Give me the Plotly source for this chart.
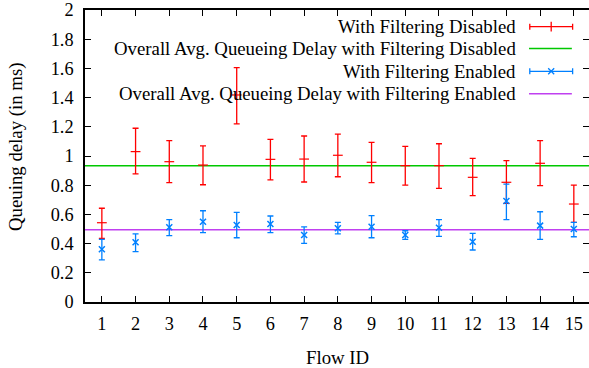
import plotly.graph_objects as go

flow_ids = list(range(1, 16))

disabled_mean = [0.543, 1.03, 0.961, 0.938, 1.418, 0.977, 0.979, 1.005, 0.957, 0.934, 0.934, 0.854, 0.82, 0.95, 0.671]
disabled_high = [0.642, 1.19, 1.105, 1.07, 1.605, 1.114, 1.137, 1.15, 1.094, 1.066, 1.084, 0.984, 0.968, 1.105, 0.801]
disabled_low = [0.436, 0.877, 0.817, 0.803, 1.22, 0.836, 0.822, 0.858, 0.817, 0.801, 0.778, 0.728, 0.676, 0.797, 0.546]

enabled_mean = [0.361, 0.409, 0.512, 0.55, 0.527, 0.534, 0.459, 0.505, 0.516, 0.459, 0.509, 0.413, 0.692, 0.523, 0.5]
enabled_high = [0.429, 0.466, 0.564, 0.625, 0.614, 0.589, 0.514, 0.546, 0.591, 0.488, 0.564, 0.47, 0.808, 0.618, 0.546]
enabled_low = [0.288, 0.345, 0.454, 0.475, 0.44, 0.475, 0.402, 0.466, 0.44, 0.429, 0.45, 0.356, 0.564, 0.429, 0.447]

avg_disabled = 0.934
avg_enabled = 0.495

y_ticks = [0, 0.2, 0.4, 0.6, 0.8, 1, 1.2, 1.4, 1.6, 1.8, 2]
y_ticktext = ["0", "0.2", "0.4", "0.6", "0.8", "1", "1.2", "1.4", "1.6", "1.8", "2"]

legend_labels = [
    "With Filtering Disabled",
    "Overall Avg. Queueing Delay with Filtering Disabled",
    "With Filtering Enabled",
    "Overall Avg. Queueing Delay with Filtering Enabled",
]

RED = "#ff0000"
GREEN = "#00c800"
BLUE = "#0080ff"
PURPLE = "#c040f0"
FONT = "Liberation Serif"
FS = 18.8
TFS = 18.3

x_range = [0.5, 15.45]

fig = go.Figure()

# average lines
fig.add_trace(go.Scatter(x=x_range, y=[avg_disabled, avg_disabled], mode="lines",
                         line=dict(color=GREEN, width=1.5), showlegend=False, hoverinfo="skip"))
fig.add_trace(go.Scatter(x=x_range, y=[avg_enabled, avg_enabled], mode="lines",
                         line=dict(color=PURPLE, width=1.5), showlegend=False, hoverinfo="skip"))

def err(mean, hi, lo):
    return [h - m for h, m in zip(hi, mean)], [m - l for m, l in zip(mean, lo)]

up, dn = err(disabled_mean, disabled_high, disabled_low)
fig.add_trace(go.Scatter(x=flow_ids, y=disabled_mean, mode="markers",
                         marker=dict(symbol="line-ew", size=7, color=RED, line=dict(color=RED, width=1.2)),
                         error_y=dict(type="data", array=up, arrayminus=dn, color=RED, thickness=1.3, width=3),
                         showlegend=False))

up2, dn2 = err(enabled_mean, enabled_high, enabled_low)
fig.add_trace(go.Scatter(x=flow_ids, y=enabled_mean, mode="markers",
                         marker=dict(symbol="x-thin", size=6, color=BLUE, line=dict(color=BLUE, width=1.5)),
                         error_y=dict(type="data", array=up2, arrayminus=dn2, color=BLUE, thickness=1.3, width=3),
                         showlegend=False))

# custom gnuplot-style legend (text right-aligned, sample on the right), on an overlay paper-like axis
leg_rows = [0.943, 0.868, 0.790, 0.713]
sx0, sx1, smid = 0.881, 0.966, 0.925
text_x = 0.859
styles = [("err", RED, "line-ns"), ("line", GREEN, None), ("err", BLUE, "x-thin"), ("line", PURPLE, None)]
for label, yy, (kind, col, sym) in zip(legend_labels, leg_rows, styles):
    fig.add_annotation(x=text_x, y=yy, xref="paper", yref="paper", text=label, showarrow=False,
                       xanchor="right", yanchor="middle", font=dict(family=FONT, size=FS, color="black"))
    if kind == "line":
        fig.add_trace(go.Scatter(x=[sx0, sx1], y=[yy, yy], xaxis="x2", yaxis="y2", mode="lines",
                                 line=dict(color=col, width=1.5), showlegend=False, hoverinfo="skip"))
    else:
        half = (sx1 - sx0) / 2
        fig.add_trace(go.Scatter(x=[smid], y=[yy], xaxis="x2", yaxis="y2", mode="markers",
                                 marker=dict(symbol=sym, size=7 if sym == "line-ns" else 6, color=col,
                                             line=dict(color=col, width=1.3)),
                                 error_x=dict(type="constant", value=half, color=col, thickness=1.3, width=3),
                                 showlegend=False, hoverinfo="skip"))

# axis titles as annotations for exact placement
fig.add_annotation(x=0.5, y=0, xref="paper", yref="paper", yshift=-55, yanchor="middle",
                   text="Flow ID", showarrow=False, font=dict(family=FONT, size=FS, color="black"))
fig.add_annotation(x=0, y=0.531, xref="paper", yref="paper", xshift=-69, text="Queuing delay (in ms)",
                   showarrow=False, textangle=-90, xanchor="center", yanchor="middle",
                   font=dict(family=FONT, size=FS, color="black"))

axis_common = dict(showline=True, linecolor="black", linewidth=1.5, mirror="ticks",
                   ticks="inside", ticklen=6, tickcolor="black", tickwidth=1,
                   showgrid=False, zeroline=False, automargin=False,
                   tickfont=dict(family=FONT, size=TFS, color="black"))

fig.update_layout(
    width=589, height=368,
    margin=dict(l=85, r=0, t=10, b=66, autoexpand=False),
    plot_bgcolor="white", paper_bgcolor="white",
    showlegend=False,
    font=dict(family=FONT, size=FS, color="black"),
    xaxis=dict(range=x_range, tickmode="array", tickvals=flow_ids, ticktext=[str(i) for i in flow_ids],
               ticklabelstandoff=4, **axis_common),
    yaxis=dict(range=[0, 2], tickmode="array", tickvals=y_ticks, ticktext=y_ticktext,
               ticklabelstandoff=6, **axis_common),
    xaxis2=dict(overlaying="x", range=[0, 1], visible=False),
    yaxis2=dict(overlaying="y", range=[0, 1], visible=False),
)

fig.write_html("out.html", config={"displayModeBar": False},
               post_script="document.body.style.margin='0';document.body.style.padding='0';")
